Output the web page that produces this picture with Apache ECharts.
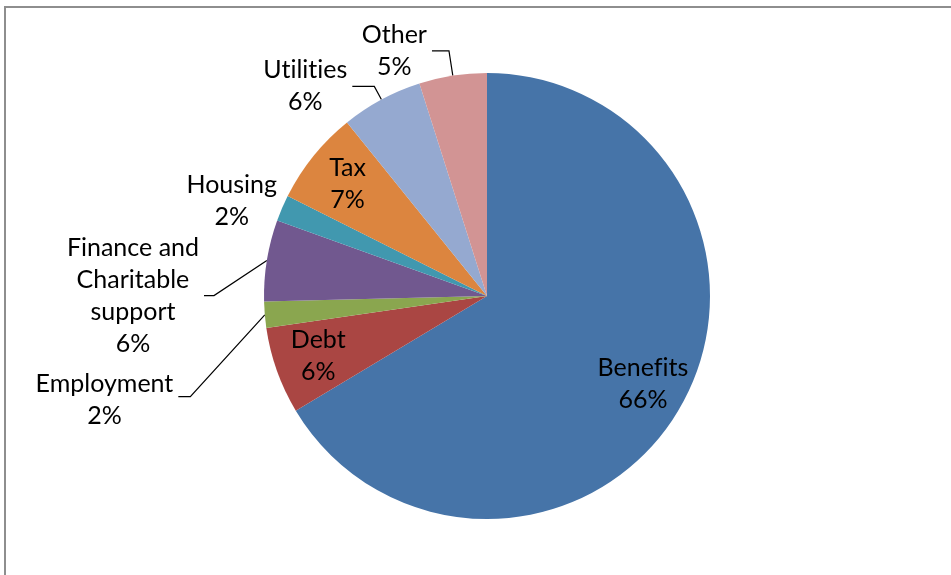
<!DOCTYPE html>
<html>
<head>
<meta charset="utf-8">
<script src="https://cdn.jsdelivr.net/npm/echarts@6/dist/echarts.min.js"></script>
<style>
  html, body { margin: 0; padding: 0; background: #fff; }
  #chart { width: 951px; height: 575px; }
</style>
</head>
<body>
<div id="chart"></div>
<script>
// shares of enquiries (percent)
var categories = ['Benefits', 'Debt', 'Employment', 'Finance and\nCharitable\nsupport', 'Housing', 'Tax', 'Utilities', 'Other'];
var shares = [66.4, 6.3, 1.9, 5.9, 1.9, 6.8, 5.9, 4.9];
var colors = ['#4674A8', '#AA4643', '#8AA64F', '#71588F', '#4198AF', '#DC853F', '#95A9D0', '#D29494'];

// label placement: 'in' inside slice, 'side' outside with overlap pushing, 'top' outside as is
var labelPlace = ['in', 'in', 'side', 'side', 'side', 'in', 'top', 'top'];
// leader line [length, length2] per slice
var leader = [[0, 0], [0, 0], [95, 12], [55, 10], [0, 0], [0, 0], [15, 22], [25, 17]];
// label box padding per slice (nudges text against its anchor)
var labelPad = [0, 0, [6, 0, 0, 0], 0, [-24, 0, -10, 0], 0, 0, 0];

var font = 'Lato, "Open Sans", sans-serif';
var cx = 487, cy = 296, R = 223;

// Lato turns "ti" / "fi" into ligatures, the original font does not
(function () {
    var proto = CanvasRenderingContext2D.prototype;
    ['fillText', 'measureText'].forEach(function (fn) {
        var orig = proto[fn];
        proto[fn] = function () {
            if ('textRendering' in this) this.textRendering = 'optimizeSpeed';
            return orig.apply(this, arguments);
        };
    });
})();

function labelText(p) {
    var lines = p.name.split('\n').map(function (s) { return '{c|' + s + '}'; });
    lines.push('{c|' + p.percent + '%}');
    return lines.join('\n');
}

var labelBase = {
    color: '#000',
    fontFamily: font,
    fontSize: 25,
    lineHeight: 32,
    formatter: labelText,
    rich: {
        c: { align: 'center', color: '#000', fontFamily: font, fontSize: 25, lineHeight: 32 }
    }
};

function buildData(forOverlay) {
    return categories.map(function (name, i) {
        var place = labelPlace[i];
        var shown = forOverlay ? place !== 'side' : place === 'side';
        return {
            name: name,
            value: shares[i],
            itemStyle: { color: forOverlay ? 'rgba(0,0,0,0)' : colors[i] },
            label: {
                show: shown,
                position: place === 'in' ? 'inside' : 'outside',
                padding: labelPad[i]
            },
            labelLine: {
                show: shown && place !== 'in' && leader[i][0] + leader[i][1] > 0,
                length: leader[i][0],
                length2: leader[i][1]
            }
        };
    });
}

var chart = echarts.init(document.getElementById('chart'));

chart.setOption({
    animation: false,
    backgroundColor: '#fff',
    graphic: [{
        type: 'rect',
        shape: { x: 5, y: 7, width: 1000, height: 700 },
        style: { fill: 'none', stroke: '#8e8e8e', lineWidth: 2 },
        silent: true
    }],
    series: [
        {
            type: 'pie',
            center: [cx, cy],
            radius: R,
            startAngle: 90,
            clockwise: true,
            percentPrecision: 0,
            avoidLabelOverlap: true,
            emphasis: { disabled: true },
            label: labelBase,
            labelLine: { lineStyle: { color: '#000', width: 1.2 } },
            data: buildData(false)
        },
        {
            type: 'pie',
            center: [cx, cy],
            radius: [R * 0.58, R],
            startAngle: 90,
            clockwise: true,
            percentPrecision: 0,
            avoidLabelOverlap: false,
            silent: true,
            emphasis: { disabled: true },
            label: labelBase,
            labelLine: { lineStyle: { color: '#000', width: 1.2 } },
            data: buildData(true)
        }
    ]
});
</script>
</body>
</html>
